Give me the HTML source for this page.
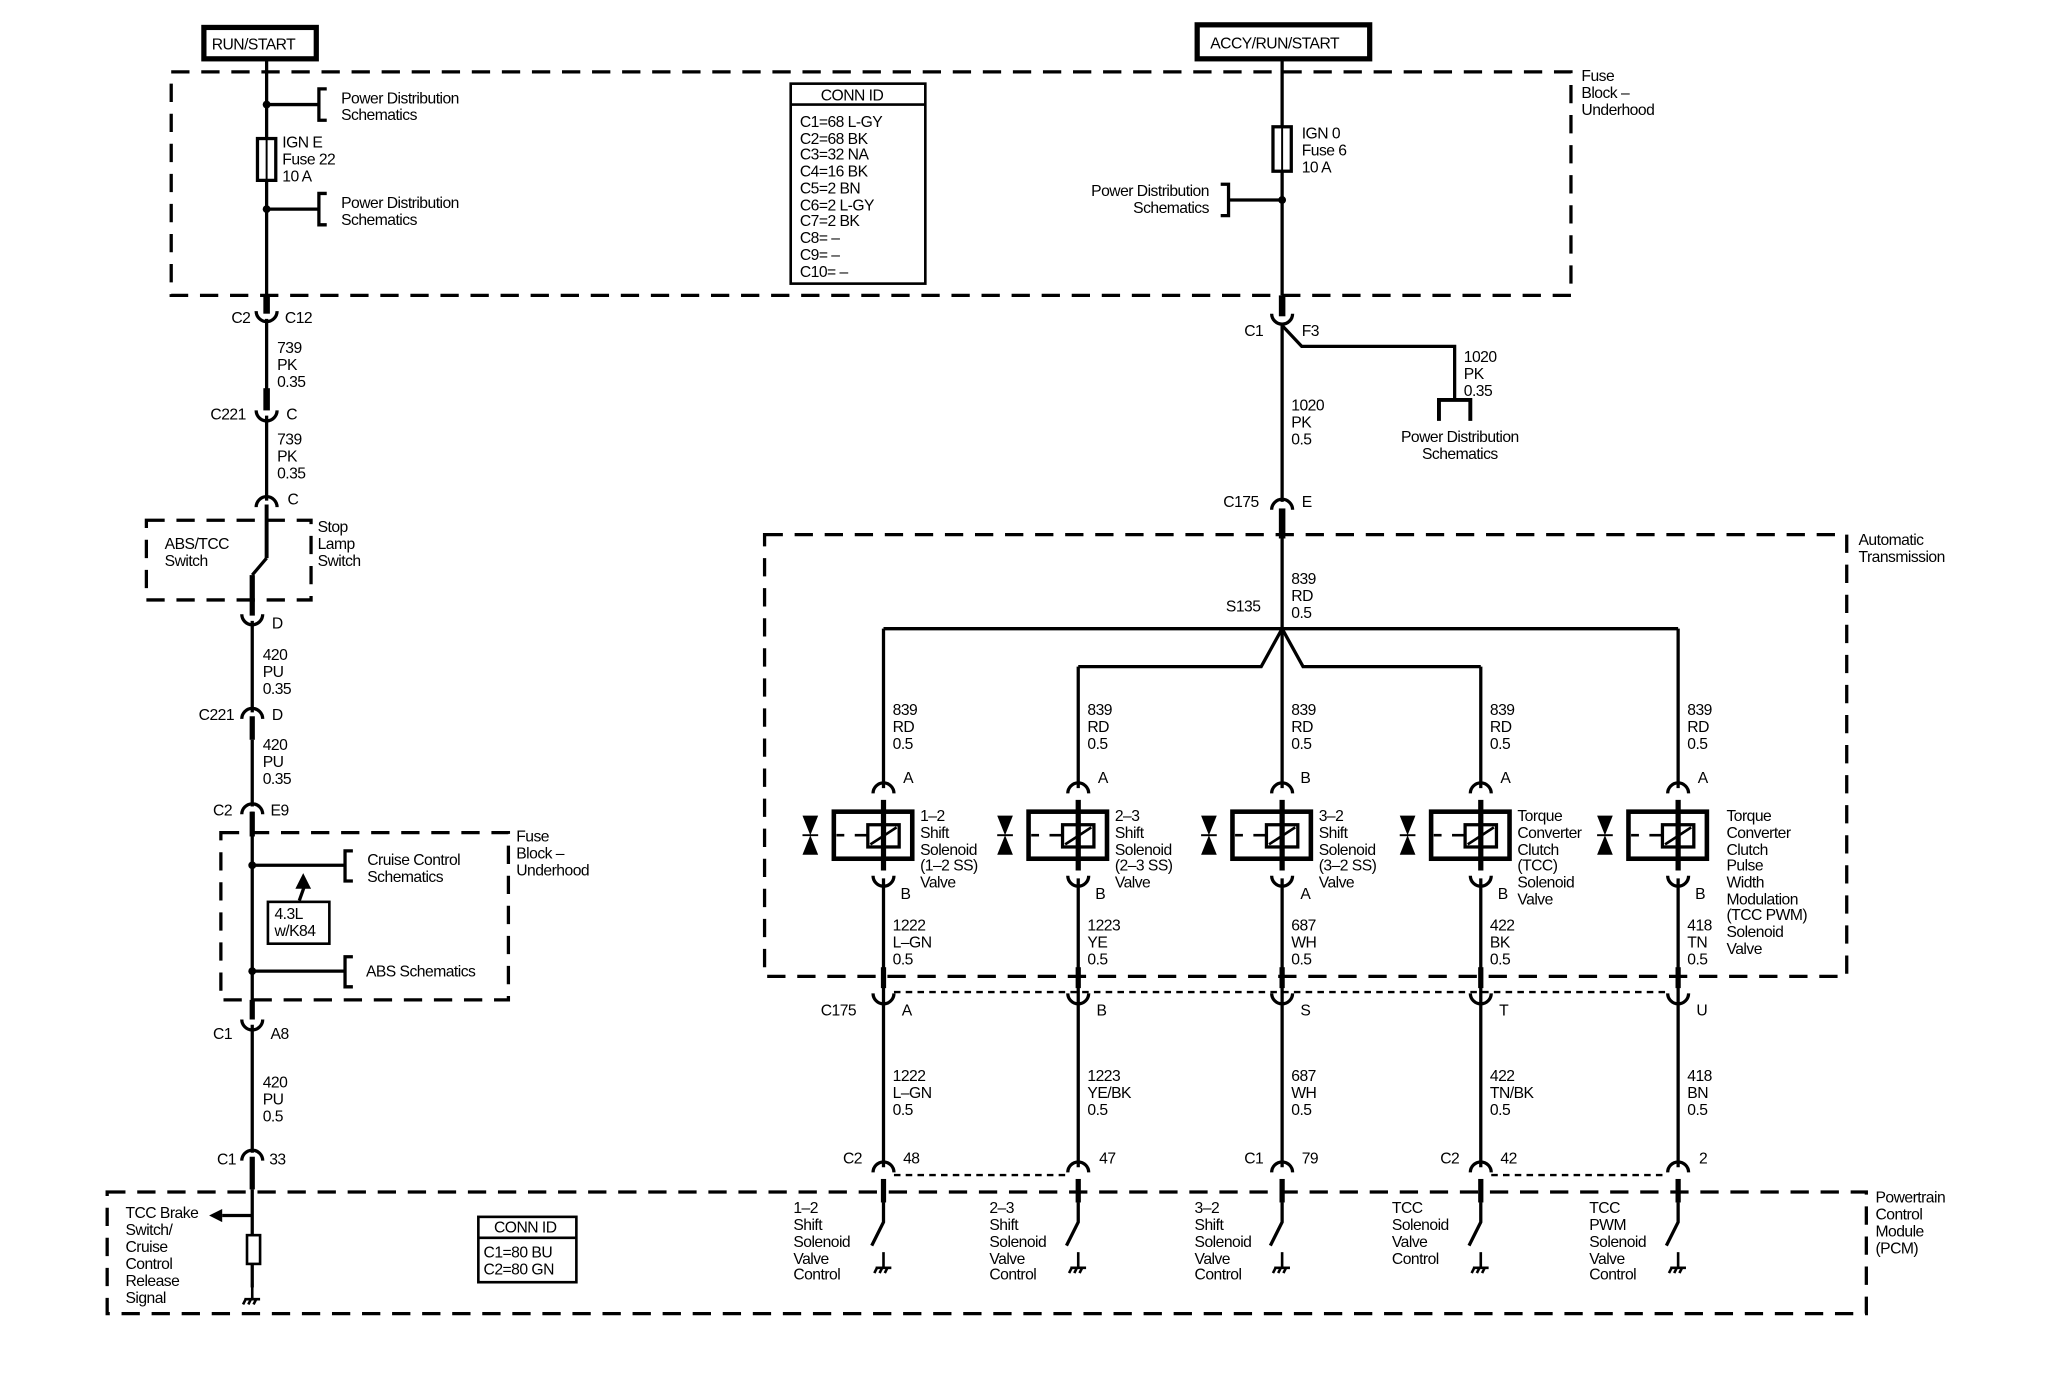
<!DOCTYPE html>
<html><head><meta charset="utf-8"><style>
html,body{margin:0;padding:0;background:#fff;}
svg{display:block;}
text{font-family:"Liberation Sans",sans-serif;font-size:12px;fill:#000;letter-spacing:-0.4px;}
</style></head><body>
<svg width="2048" height="1392" viewBox="0 0 1567 1065" preserveAspectRatio="none" xmlns="http://www.w3.org/2000/svg">
<defs>
<path id="cu" d="M-8 0 A8 8 0 0 0 8 0" fill="none" stroke="#000" stroke-width="2.5"/>
<path id="cn" d="M-8 0 A8 8 0 0 1 8 0" fill="none" stroke="#000" stroke-width="2.5"/>
<g id="gnd" stroke="#000" stroke-width="2" fill="none"><line x1="0" y1="0" x2="0" y2="12"/><line x1="-6" y1="12" x2="6" y2="12"/><line x1="-5" y1="12" x2="-7" y2="16"/><line x1="-1" y1="12" x2="-3" y2="16"/><line x1="3" y1="12" x2="1" y2="16"/></g>
<g id="sol" stroke="#000" fill="none">
<rect x="-38" y="0" width="60" height="36" stroke-width="3.5"/>
<rect x="-12" y="10" width="24" height="17" stroke-width="2.5"/>
<line x1="-10" y1="25" x2="10" y2="12" stroke-width="2"/>
<line x1="-36" y1="18" x2="-30" y2="18" stroke-width="2"/>
<line x1="-22" y1="18" x2="-12" y2="18" stroke-width="2"/>
<path d="M-62 3 L-50 3 L-56 18 Z M-62 33 L-50 33 L-56 18 Z" fill="#000" stroke="none"/>
<line x1="-62" y1="18" x2="-50" y2="18" stroke-width="1.5"/>
</g>
</defs>
<g stroke="#000" fill="none">
<g stroke-width="2.5" stroke-dasharray="14,9">
<rect x="131" y="55" width="1071" height="171"/>
<rect x="112" y="398" width="126" height="61"/>
<rect x="169" y="637" width="220" height="128"/>
<rect x="585" y="409" width="828" height="338"/>
<rect x="82" y="912" width="1346" height="93"/>
</g>
<g stroke-width="1.8" stroke-dasharray="5,4">
<line x1="684" y1="759" x2="1276" y2="759"/>
<line x1="684" y1="899" x2="817" y2="899"/>
<line x1="1141" y1="899" x2="1276" y2="899"/>
</g>
<rect x="156" y="21" width="86" height="24" stroke-width="4"/>
<rect x="916" y="19" width="132" height="26" stroke-width="4"/>
<rect x="605" y="64" width="103" height="153" stroke-width="2"/>
<line x1="605" y1="80" x2="708" y2="80" stroke-width="2"/>
<rect x="366" y="931" width="75" height="50" stroke-width="2"/>
<line x1="366" y1="947" x2="441" y2="947" stroke-width="2"/>
<rect x="205" y="690" width="47" height="32" stroke-width="2"/>

<g stroke-width="2.5">
<line x1="204" y1="46" x2="204" y2="226"/>
<line x1="204" y1="226" x2="204" y2="240" stroke-width="5"/>
<line x1="204" y1="80" x2="244" y2="80"/>
<path d="M250 68 H244 V92 H250"/>
<line x1="204" y1="160" x2="244" y2="160"/>
<path d="M250 148 H244 V172 H250"/>
<rect x="197" y="106" width="14" height="32" fill="#fff"/>
<line x1="204" y1="106" x2="204" y2="138" stroke-width="1.5"/>
<line x1="204" y1="244" x2="204" y2="300"/>
<line x1="204" y1="297" x2="204" y2="314" stroke-width="5"/>
<line x1="204" y1="318" x2="204" y2="383"/>
<line x1="204" y1="386" x2="204" y2="427" stroke-width="3"/>
<line x1="204" y1="427" x2="193" y2="440"/>
<line x1="193" y1="440" x2="193" y2="471" stroke-width="4"/>
<line x1="193" y1="475" x2="193" y2="545"/>
<line x1="193" y1="548" x2="193" y2="566" stroke-width="4"/>
<line x1="193" y1="566" x2="193" y2="617"/>
<line x1="193" y1="621" x2="193" y2="780" />
<line x1="193" y1="621" x2="193" y2="640" stroke-width="4"/>
<line x1="193" y1="765" x2="193" y2="780" stroke-width="4"/>
<line x1="193" y1="662" x2="264" y2="662"/>
<path d="M270 651 H264 V674 H270"/>
<line x1="193" y1="743" x2="264" y2="743"/>
<path d="M270 732 H264 V755 H270"/>
<line x1="229" y1="689" x2="234" y2="675"/>
<line x1="193" y1="784" x2="193" y2="882"/>
<line x1="193" y1="885" x2="193" y2="910" stroke-width="4"/>
<line x1="193" y1="910" x2="193" y2="945"/>
<rect x="189" y="945" width="10" height="22" fill="#fff" stroke-width="2"/>
<line x1="193" y1="967" x2="193" y2="985"/>
<line x1="193" y1="930" x2="170" y2="930"/>
<line x1="981" y1="46" x2="981" y2="226"/>
<line x1="981" y1="226" x2="981" y2="242" stroke-width="5"/>
<rect x="974" y="97" width="14" height="34" fill="#fff"/>
<line x1="981" y1="97" x2="981" y2="131" stroke-width="1.5"/>
<line x1="981" y1="153" x2="940" y2="153"/>
<path d="M934 141 H940 V165 H934"/>
<line x1="981" y1="249" x2="981" y2="384"/>
<path d="M981 249 L996 265 H1113 V306"/>
<path d="M1101 322 V306 H1125 V322" stroke-width="3"/>
<line x1="981" y1="389" x2="981" y2="481"/>
<line x1="981" y1="389" x2="981" y2="412" stroke-width="5"/>
<line x1="676" y1="481" x2="1284" y2="481"/>
<path d="M981 481 L965 510 H825 M981 481 L997 510 H1133"/>
</g>
<g fill="#000" stroke="none">
<circle cx="204" cy="80" r="3"/><circle cx="204" cy="160" r="3"/>
<circle cx="981" cy="153" r="3"/>
<circle cx="193" cy="662" r="3"/><circle cx="193" cy="743" r="3"/>
<path d="M232 668 L226 680 L238 680 Z"/>
<path d="M160 930 L170 925 L170 935 Z"/>
</g>
<use href="#gnd" x="193" y="982"/>
<use href="#cu" x="204" y="238"/>
<use href="#cu" x="204" y="314"/>
<use href="#cn" x="204" y="388"/>
<use href="#cu" x="193" y="470"/>
<use href="#cn" x="193" y="550"/>
<use href="#cn" x="193" y="623"/>
<use href="#cu" x="193" y="780"/>
<use href="#cn" x="193" y="888"/>
<use href="#cu" x="981" y="240"/>
<use href="#cn" x="981" y="390"/>
</g>

<g stroke="#000" fill="none" stroke-width="2.5">
<line x1="676" y1="481" x2="676" y2="603"/>
<line x1="825" y1="510" x2="825" y2="603"/>
<line x1="981" y1="481" x2="981" y2="603"/>
<line x1="1133" y1="510" x2="1133" y2="603"/>
<line x1="1284" y1="481" x2="1284" y2="603"/>
</g>
<g stroke="#000" fill="none" stroke-width="2.5">
<use href="#cn" x="676" y="607"/><use href="#cn" x="825" y="607"/><use href="#cn" x="981" y="607"/><use href="#cn" x="1133" y="607"/><use href="#cn" x="1284" y="607"/>
<use href="#sol" x="676" y="621"/><use href="#sol" x="825" y="621"/><use href="#sol" x="981" y="621"/><use href="#sol" x="1133" y="621"/><use href="#sol" x="1284" y="621"/>
<use href="#cu" x="676" y="670"/><use href="#cu" x="825" y="670"/><use href="#cu" x="981" y="670"/><use href="#cu" x="1133" y="670"/><use href="#cu" x="1284" y="670"/>
<use href="#cu" x="676" y="760"/><use href="#cu" x="825" y="760"/><use href="#cu" x="981" y="760"/><use href="#cu" x="1133" y="760"/><use href="#cu" x="1284" y="760"/>
<use href="#cn" x="676" y="897"/><use href="#cn" x="825" y="897"/><use href="#cn" x="981" y="897"/><use href="#cn" x="1133" y="897"/><use href="#cn" x="1284" y="897"/>
</g>
<g stroke="#000" stroke-width="4">
<line x1="676" y1="612" x2="676" y2="666"/><line x1="825" y1="612" x2="825" y2="666"/><line x1="981" y1="612" x2="981" y2="666"/><line x1="1133" y1="612" x2="1133" y2="666"/><line x1="1284" y1="612" x2="1284" y2="666"/>
<line x1="676" y1="740" x2="676" y2="756"/><line x1="825" y1="740" x2="825" y2="756"/><line x1="981" y1="740" x2="981" y2="756"/><line x1="1133" y1="740" x2="1133" y2="756"/><line x1="1284" y1="740" x2="1284" y2="756"/>
<line x1="676" y1="902" x2="676" y2="920"/><line x1="825" y1="902" x2="825" y2="920"/><line x1="981" y1="902" x2="981" y2="920"/><line x1="1133" y1="902" x2="1133" y2="920"/><line x1="1284" y1="902" x2="1284" y2="920"/>
</g>
<g stroke="#000" stroke-width="2.5" fill="none">
<path d="M676 672 V893 M825 672 V893 M981 672 V893 M1133 672 V893 M1284 672 V893"/>
<path d="M676 920 V935 L667 953 M825 920 V935 L816 953 M981 920 V935 L972 953 M1133 920 V935 L1124 953 M1284 920 V935 L1275 953"/>
</g>
<use href="#gnd" x="676" y="958"/><use href="#gnd" x="825" y="958"/><use href="#gnd" x="981" y="958"/><use href="#gnd" x="1133" y="958"/><use href="#gnd" x="1284" y="958"/>

<text x="162" y="38">RUN/START</text>
<text x="926" y="37">ACCY/RUN/START</text>
<text x="261" y="79">Power Distribution</text><text x="261" y="92">Schematics</text>
<text x="216" y="113">IGN E</text><text x="216" y="126">Fuse 22</text><text x="216" y="139">10 A</text>
<text x="261" y="159">Power Distribution</text><text x="261" y="172">Schematics</text>
<text x="628" y="77">CONN ID</text>
<text x="612" y="97">C1=68 L-GY</text><text x="612" y="110">C2=68 BK</text><text x="612" y="122">C3=32 NA</text><text x="612" y="135">C4=16 BK</text><text x="612" y="148">C5=2 BN</text><text x="612" y="161">C6=2 L-GY</text><text x="612" y="173">C7=2 BK</text><text x="612" y="186">C8= –</text><text x="612" y="199">C9= –</text><text x="612" y="212">C10= –</text>
<text x="1210" y="62">Fuse</text><text x="1210" y="75">Block –</text><text x="1210" y="88">Underhood</text>
<text x="996" y="106">IGN 0</text><text x="996" y="119">Fuse 6</text><text x="996" y="132">10 A</text>
<text x="925" y="150" text-anchor="end">Power Distribution</text><text x="925" y="163" text-anchor="end">Schematics</text>
<text x="177" y="247">C2</text><text x="218" y="247">C12</text>
<text x="212" y="270">739</text><text x="212" y="283">PK</text><text x="212" y="296">0.35</text>
<text x="161" y="321">C221</text><text x="219" y="321">C</text>
<text x="212" y="340">739</text><text x="212" y="353">PK</text><text x="212" y="366">0.35</text>
<text x="220" y="386">C</text>
<text x="126" y="420">ABS/TCC</text><text x="126" y="433">Switch</text>
<text x="243" y="407">Stop</text><text x="243" y="420">Lamp</text><text x="243" y="433">Switch</text>
<text x="208" y="481">D</text>
<text x="201" y="505">420</text><text x="201" y="518">PU</text><text x="201" y="531">0.35</text>
<text x="152" y="551">C221</text><text x="208" y="551">D</text>
<text x="201" y="574">420</text><text x="201" y="587">PU</text><text x="201" y="600">0.35</text>
<text x="163" y="624">C2</text><text x="207" y="624">E9</text>
<text x="395" y="644">Fuse</text><text x="395" y="657">Block –</text><text x="395" y="670">Underhood</text>
<text x="281" y="662">Cruise Control</text><text x="281" y="675">Schematics</text>
<text x="210" y="703">4.3L</text><text x="210" y="716">w/K84</text>
<text x="280" y="747">ABS Schematics</text>
<text x="163" y="795">C1</text><text x="207" y="795">A8</text>
<text x="201" y="832">420</text><text x="201" y="845">PU</text><text x="201" y="858">0.5</text>
<text x="166" y="891">C1</text><text x="206" y="891">33</text>
<text x="96" y="932">TCC Brake</text><text x="96" y="945">Switch/</text><text x="96" y="958">Cruise</text><text x="96" y="971">Control</text><text x="96" y="984">Release</text><text x="96" y="997">Signal</text>
<text x="378" y="943">CONN ID</text><text x="370" y="962">C1=80 BU</text><text x="370" y="975">C2=80 GN</text>
<text x="1435" y="920">Powertrain</text><text x="1435" y="933">Control</text><text x="1435" y="946">Module</text><text x="1435" y="959">(PCM)</text>
<text x="952" y="257">C1</text><text x="996" y="257">F3</text>
<text x="1120" y="277">1020</text><text x="1120" y="290">PK</text><text x="1120" y="303">0.35</text>
<text x="1117" y="338" text-anchor="middle">Power Distribution</text><text x="1117" y="351" text-anchor="middle">Schematics</text>
<text x="988" y="314">1020</text><text x="988" y="327">PK</text><text x="988" y="340">0.5</text>
<text x="936" y="388">C175</text><text x="996" y="388">E</text>
<text x="1422" y="417">Automatic</text><text x="1422" y="430">Transmission</text>
<text x="988" y="447">839</text><text x="988" y="460">RD</text><text x="988" y="473">0.5</text>
<text x="938" y="468">S135</text>
<text x="683" y="547">839</text><text x="683" y="560">RD</text><text x="683" y="573">0.5</text>
<text x="832" y="547">839</text><text x="832" y="560">RD</text><text x="832" y="573">0.5</text>
<text x="988" y="547">839</text><text x="988" y="560">RD</text><text x="988" y="573">0.5</text>
<text x="1140" y="547">839</text><text x="1140" y="560">RD</text><text x="1140" y="573">0.5</text>
<text x="1291" y="547">839</text><text x="1291" y="560">RD</text><text x="1291" y="573">0.5</text>
<text x="691" y="599">A</text><text x="840" y="599">A</text><text x="995" y="599">B</text><text x="1148" y="599">A</text><text x="1299" y="599">A</text>
<text x="704" y="628">1–2</text><text x="704" y="641">Shift</text><text x="704" y="654">Solenoid</text><text x="704" y="666">(1–2 SS)</text><text x="704" y="679">Valve</text>
<text x="853" y="628">2–3</text><text x="853" y="641">Shift</text><text x="853" y="654">Solenoid</text><text x="853" y="666">(2–3 SS)</text><text x="853" y="679">Valve</text>
<text x="1009" y="628">3–2</text><text x="1009" y="641">Shift</text><text x="1009" y="654">Solenoid</text><text x="1009" y="666">(3–2 SS)</text><text x="1009" y="679">Valve</text>
<text x="1161" y="628">Torque</text><text x="1161" y="641">Converter</text><text x="1161" y="654">Clutch</text><text x="1161" y="666">(TCC)</text><text x="1161" y="679">Solenoid</text><text x="1161" y="692">Valve</text>
<text x="1321" y="628">Torque</text><text x="1321" y="641">Converter</text><text x="1321" y="654">Clutch</text><text x="1321" y="666">Pulse</text><text x="1321" y="679">Width</text><text x="1321" y="692">Modulation</text><text x="1321" y="704">(TCC PWM)</text><text x="1321" y="717">Solenoid</text><text x="1321" y="730">Valve</text>
<text x="689" y="688">B</text><text x="838" y="688">B</text><text x="995" y="688">A</text><text x="1146" y="688">B</text><text x="1297" y="688">B</text>
<text x="683" y="712">1222</text><text x="683" y="725">L–GN</text><text x="683" y="738">0.5</text>
<text x="832" y="712">1223</text><text x="832" y="725">YE</text><text x="832" y="738">0.5</text>
<text x="988" y="712">687</text><text x="988" y="725">WH</text><text x="988" y="738">0.5</text>
<text x="1140" y="712">422</text><text x="1140" y="725">BK</text><text x="1140" y="738">0.5</text>
<text x="1291" y="712">418</text><text x="1291" y="725">TN</text><text x="1291" y="738">0.5</text>
<text x="628" y="777">C175</text>
<text x="690" y="777">A</text><text x="839" y="777">B</text><text x="995" y="777">S</text><text x="1147" y="777">T</text><text x="1298" y="777">U</text>
<text x="683" y="827">1222</text><text x="683" y="840">L–GN</text><text x="683" y="853">0.5</text>
<text x="832" y="827">1223</text><text x="832" y="840">YE/BK</text><text x="832" y="853">0.5</text>
<text x="988" y="827">687</text><text x="988" y="840">WH</text><text x="988" y="853">0.5</text>
<text x="1140" y="827">422</text><text x="1140" y="840">TN/BK</text><text x="1140" y="853">0.5</text>
<text x="1291" y="827">418</text><text x="1291" y="840">BN</text><text x="1291" y="853">0.5</text>
<text x="645" y="890">C2</text><text x="691" y="890">48</text>
<text x="841" y="890">47</text>
<text x="952" y="890">C1</text><text x="996" y="890">79</text>
<text x="1102" y="890">C2</text><text x="1148" y="890">42</text>
<text x="1300" y="890">2</text>
<text x="607" y="928">1–2</text><text x="607" y="941">Shift</text><text x="607" y="954">Solenoid</text><text x="607" y="967">Valve</text><text x="607" y="979">Control</text>
<text x="757" y="928">2–3</text><text x="757" y="941">Shift</text><text x="757" y="954">Solenoid</text><text x="757" y="967">Valve</text><text x="757" y="979">Control</text>
<text x="914" y="928">3–2</text><text x="914" y="941">Shift</text><text x="914" y="954">Solenoid</text><text x="914" y="967">Valve</text><text x="914" y="979">Control</text>
<text x="1065" y="928">TCC</text><text x="1065" y="941">Solenoid</text><text x="1065" y="954">Valve</text><text x="1065" y="967">Control</text>
<text x="1216" y="928">TCC</text><text x="1216" y="941">PWM</text><text x="1216" y="954">Solenoid</text><text x="1216" y="967">Valve</text><text x="1216" y="979">Control</text>
</svg>
</body></html>
